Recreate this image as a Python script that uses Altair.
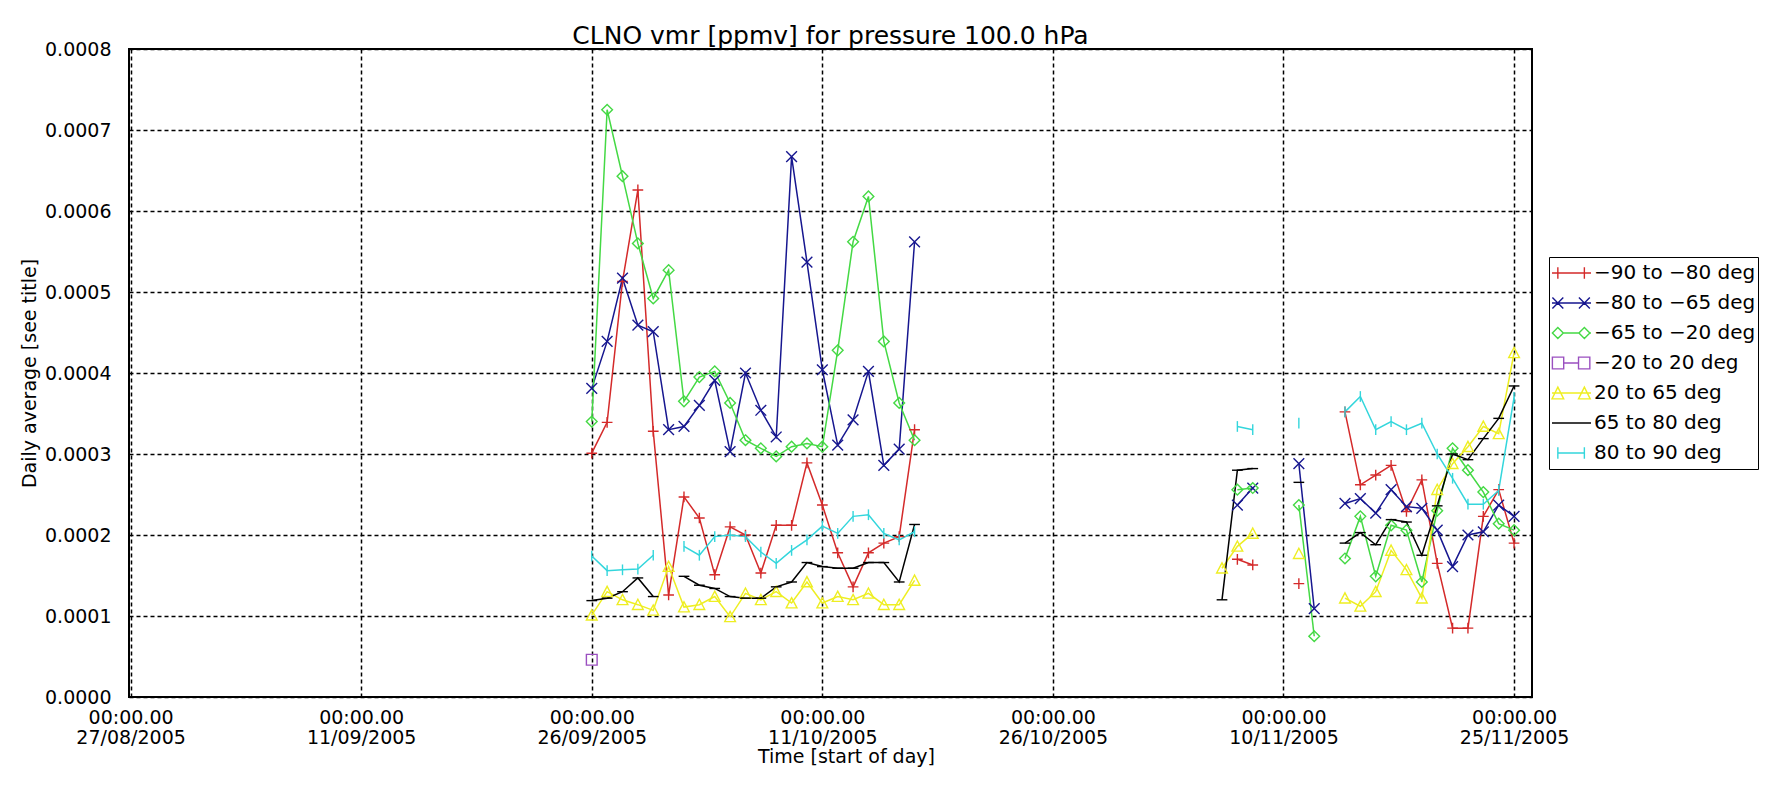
import altair as alt
import pandas as pd

# ---------------- data (daily averages, ppmv) ----------------
series_names = ["−90 to −80 deg", "−80 to −65 deg", "−65 to −20 deg",
                "−20 to 20 deg", "20 to 65 deg", "65 to 80 deg", "80 to 90 deg"]
series_colors = ["#d42a2a", "#16168f", "#44d944", "#9a4fc0", "#eeee22", "#000000", "#33d6dc"]

# block A: 26/09/2005 .. 17/10/2005 (one value per day)
dates_a = [d.strftime("%Y-%m-%d") for d in pd.date_range("2005-09-26", "2005-10-17", freq="D")]
# block B: 06/11/2005 .. 25/11/2005
dates_b = [d.strftime("%Y-%m-%d") for d in pd.date_range("2005-11-06", "2005-11-25", freq="D")]

N = None
red_a = [0.000301, 0.000339, 0.000513, 0.000626, 0.000328, 0.000126, 0.000247, 0.000221,
         0.000151, 0.000210, 0.000200, 0.000153, 0.000212, 0.000212, 0.000289, 0.000237,
         0.000178, 0.000136, 0.000178, 0.000190, 0.000198, 0.000330]
blue_a = [0.000381, 0.000439, 0.000517, 0.000459, 0.000451, 0.000330, 0.000334, 0.000360,
          0.000391, 0.000303, 0.000400, 0.000354, 0.000321, 0.000667, 0.000537, 0.000404,
          0.000311, 0.000342, 0.000402, 0.000286, 0.000306, 0.000562]
green_a = [0.000340, 0.000725, 0.000643, 0.000560, 0.000492, 0.000527, 0.000365, 0.000395,
           0.000402, 0.000363, 0.000317, 0.000307, 0.000297, 0.000309, 0.000313, 0.000309,
           0.000428, 0.000562, 0.000618, 0.000439, 0.000363, 0.000317]
purple_a = [0.000046] + [N] * 21
yellow_a = [0.000101, 0.000130, 0.000120, 0.000114, 0.000107, 0.000161, 0.000111, 0.000114,
            0.000124, 0.000099, 0.000128, 0.000120, 0.000130, 0.000116, 0.000142, 0.000116,
            0.000124, 0.000120, 0.000128, 0.000114, 0.000114, 0.000144]
black_a = [0.000119, 0.000122, 0.000130, 0.000147, 0.000124, N, 0.000149, 0.000138,
           0.000134, 0.000124, 0.000122, 0.000122, 0.000136, 0.000142, 0.000166, 0.000161,
           0.000159, 0.000159, 0.000166, 0.000166, 0.000142, 0.000213]
cyan_a = [0.000174, 0.000156, 0.000157, 0.000158, 0.000175, N, 0.000186, 0.000175,
          0.000198, 0.000200, 0.000198, 0.000179, 0.000165, 0.000181, 0.000194, 0.000211,
          0.000202, 0.000223, 0.000225, 0.000202, 0.000194, 0.000204]

red_b = [N, 0.000170, 0.000163, N, N, 0.000140, N, N, 0.000352, 0.000262, 0.000274,
         0.000286, 0.000229, 0.000268, 0.000165, 0.000085, 0.000085, 0.000223, 0.000256, 0.000190]
blue_b = [N, 0.000237, 0.000258, N, N, 0.000288, 0.000109, N, 0.000239, 0.000245, 0.000227,
          0.000256, 0.000235, 0.000233, 0.000206, 0.000161, 0.000200, 0.000204, 0.000237, 0.000223]
green_b = [N, 0.000256, 0.000258, N, N, 0.000237, 0.000075, N, 0.000171, 0.000223, 0.000149,
           0.000212, 0.000206, 0.000142, 0.000230, 0.000307, 0.000280, 0.000253, 0.000214, 0.000206]
purple_b = [N] * 20
yellow_b = [0.000159, 0.000186, 0.000202, N, N, 0.000177, N, N, 0.000122, 0.000112, 0.000130,
            0.000181, 0.000157, 0.000122, 0.000256, 0.000288, 0.000309, 0.000334, 0.000325, 0.000425]
black_b = [0.000120, 0.000280, 0.000282, N, N, 0.000265, N, N, 0.000190, 0.000203, 0.000188,
           0.000219, 0.000216, 0.000175, 0.000236, 0.000300, 0.000293, 0.000319, 0.000344, 0.000384]
cyan_b = [N, 0.000334, 0.000330, N, N, 0.000338, N, N, 0.000352, 0.000371, 0.000330,
          0.000340, 0.000330, 0.000338, 0.000300, 0.000270, 0.000238, 0.000238, 0.000255, 0.000370]

blocks = [
    (dates_a, [red_a, blue_a, green_a, purple_a, yellow_a, black_a, cyan_a]),
    (dates_b, [red_b, blue_b, green_b, purple_b, yellow_b, black_b, cyan_b]),
]

x_ticks = ["2005-08-27", "2005-09-11", "2005-09-26", "2005-10-11",
           "2005-10-26", "2005-11-10", "2005-11-25"]
y_ticks = [0.0, 0.0001, 0.0002, 0.0003, 0.0004, 0.0005, 0.0006, 0.0007, 0.0008]

# marker glyphs (plot) and legend glyphs (line + two markers)
marker_paths = [
    "M-1,0L1,0M0,-1L0,1",
    "M-1,-1L1,1M-1,1L1,-1",
    "M0,-1L1,0L0,1L-1,0Z",
    "M-1,-1L1,-1L1,1L-1,1Z",
    "M0,-1L1,0.9L-1,0.9Z",
    "M-1,0L1,0",
    "M0,-1L0,1",
]
legend_paths = [
    "M-1,0L1,0M-0.7,-0.3L-0.7,0.3M0.66,-0.3L0.66,0.3",
    "M-1,0L1,0M-0.98,-0.28L-0.42,0.28M-0.98,0.28L-0.42,-0.28M0.38,-0.28L0.94,0.28M0.38,0.28L0.94,-0.28",
    "M-1,0L-0.98,0M-0.98,0L-0.7,-0.28L-0.42,0L-0.7,0.28Z M-0.42,0L0.38,0M0.38,0L0.66,-0.28L0.94,0L0.66,0.28Z M0.94,0L1,0",
    "M-0.98,-0.3L-0.4,-0.3L-0.4,0.3L-0.98,0.3Z M-0.4,0L0.36,0 M0.36,-0.3L0.94,-0.3L0.94,0.3L0.36,0.3Z",
    "M-1,0L1,0M-0.7,-0.3L-0.4,0.3L-1,0.3Z M0.66,-0.3L0.96,0.3L0.36,0.3Z",
    "M-1,0L1,0",
    "M-0.7,0L0.66,0M-0.7,-0.3L-0.7,0.3M0.66,-0.3L0.66,0.3",
]

# ---------------- table ----------------
rows = []
for ci, name in enumerate(series_names):
    seg = 0
    for dates, vals in blocks:
        seg += 1
        prev = None
        for d, v in zip(dates, vals[ci]):
            if v is None:
                if prev is not None:
                    seg += 1
                prev = None
                continue
            rows.append({"series": name, "date": d, "value": v, "seg": f"{name}-{seg}"})
            prev = v
df = pd.DataFrame(rows)

FONT = "DejaVu Sans"

legend = alt.Legend(
    title=None,
    orient="none",
    legendX=1420,
    legendY=208,
    strokeColor="black",
    fillColor="white",
    padding=2,
    rowPadding=2,
    clipHeight=28,
    symbolSize=1521,
    symbolStrokeWidth=1.4,
    symbolOpacity=1,
    symbolOffset=0,
    labelOffset=2,
    labelFont=FONT,
    labelFontSize=20,
    labelColor="black",
    labelLimit=400,
)

x_enc = alt.X(
    "date:T",
    scale=alt.Scale(
        type="utc",
        domain=[alt.DateTime(year=2005, month=8, date=26, hours=21, minutes=30, utc=True),
                alt.DateTime(year=2005, month=11, date=26, hours=4, utc=True)],
    ),
    axis=alt.Axis(
        values=[alt.DateTime(year=int(t[:4]), month=int(t[5:7]), date=int(t[8:]), utc=True) for t in x_ticks],
        labelExpr="[utcFormat(datum.value, '%H:%M.%S'), utcFormat(datum.value, '%d/%m/%Y')]",
        labelLineHeight=20,
        labelPadding=11,
        labelBaseline="top",
        title="Time [start of day]",
        titleX=717,
        titleY=59,
        titleAlign="center",
        titleBaseline="middle",
    ),
)
y_enc = alt.Y(
    "value:Q",
    scale=alt.Scale(domain=[0, 0.0008], nice=False, zero=False),
    axis=alt.Axis(
        values=y_ticks,
        format=".4f",
        labelPadding=18,
        title="Daily average [see title]",
        titleX=-100,
        titleY=324,
        titleAngle=270,
        titleAlign="center",
        titleBaseline="middle",
    ),
)


def color_enc(leg):
    return alt.Color("series:N", scale=alt.Scale(domain=series_names, range=series_colors),
                     legend=leg, sort=series_names)


lines = alt.Chart(df).mark_line(strokeWidth=1.5, opacity=1).encode(
    x=x_enc, y=y_enc, color=color_enc(None), detail="seg:N",
)

points = alt.Chart(df).mark_point(filled=False, size=115, strokeWidth=1.4, opacity=1).encode(
    x=x_enc, y=y_enc, color=color_enc(None),
    shape=alt.Shape("series:N", scale=alt.Scale(domain=series_names, range=marker_paths), legend=None),
)

# legend-only layer: no visible marks, glyph = line with two markers
legend_layer = alt.Chart(df).transform_filter("false").mark_point(
    filled=False, size=1521, strokeWidth=1.4, opacity=1
).encode(
    x=x_enc, y=y_enc, color=color_enc(legend),
    shape=alt.Shape("series:N", scale=alt.Scale(domain=series_names, range=legend_paths), legend=legend),
)

chart = (
    alt.layer(lines, points, legend_layer)
    .resolve_scale(shape="independent", color="independent")
    .properties(
        width=1403,
        height=648,
        autosize=alt.AutoSizeParams(type="none"),
        padding={"left": 121, "top": 41, "right": 242, "bottom": 70},
        background="white",
        title=alt.TitleParams(
            "CLNO vmr [ppmv] for pressure 100.0 hPa",
            font=FONT, fontSize=25, fontWeight="normal", color="black",
            anchor="middle", offset=-9,
        ),
    )
    .configure_view(stroke="black", strokeWidth=2)
    .configure_axis(
        grid=True,
        gridColor="black",
        gridDash=[4, 3],
        gridWidth=1.5,
        gridOpacity=1,
        domain=False,
        ticks=False,
        labelFont=FONT,
        labelFontSize=19,
        labelColor="black",
        titleFont=FONT,
        titleFontSize=19,
        titleFontWeight="normal",
        titleColor="black",
    )
)

chart.save("out.html", embed_options={"renderer": "svg", "actions": False})
